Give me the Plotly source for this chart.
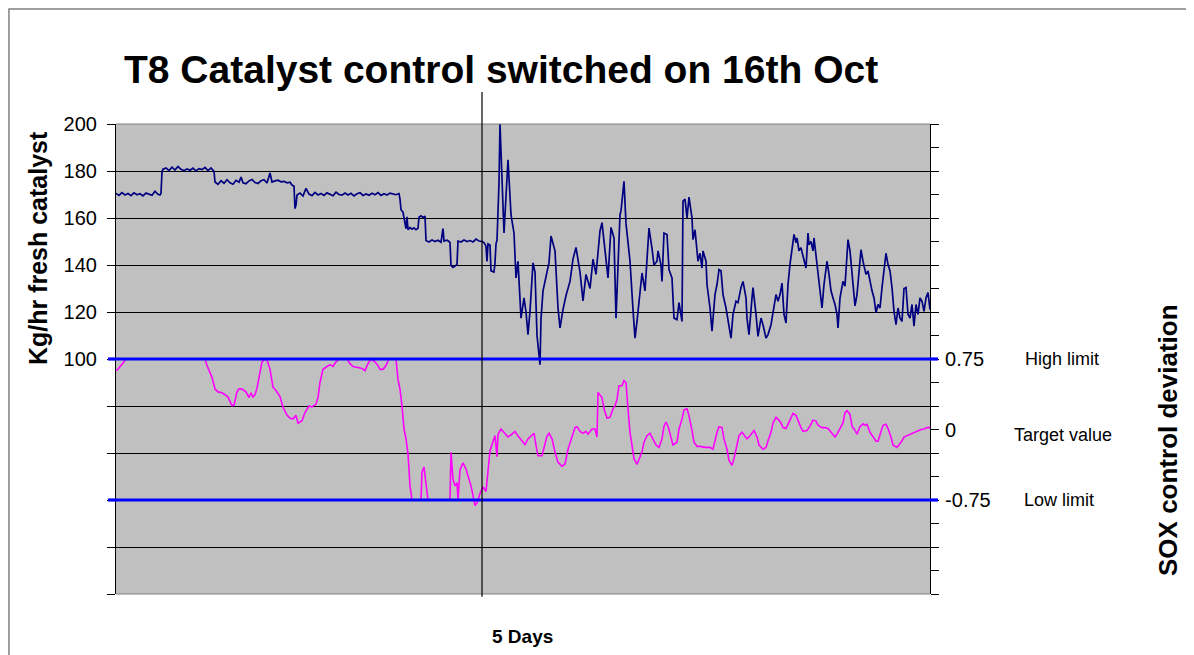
import plotly.graph_objects as go

# ---------------- data ----------------
# x = sample number over the 5-day window (0..814), catalyst in kg/hr
catalyst_x = [0, 3, 6, 9, 12, 15, 18, 21, 24, 27, 30, 33, 36, 39, 42, 44, 45,
              46, 47, 50, 53, 56, 59, 62, 65, 68, 71, 74, 77, 80, 83, 86, 89, 92, 95, 98,
              99, 102, 105, 108, 111, 114, 117, 120, 123, 125, 127, 130, 133, 136, 139, 142, 145, 148, 151, 154, 156, 159, 162, 165, 168, 171, 174, 176, 178,
              179, 180, 181, 184, 187, 190, 193, 196, 199, 202, 205, 208, 211, 214, 217, 220, 223, 226, 229, 232, 235, 238, 241, 244, 247, 250, 253, 256, 259, 262, 265, 268, 271, 274, 277, 280, 283,
              284, 285, 287, 288, 290, 291, 292, 294, 296, 298, 300, 302, 303, 305, 307, 309,
              310, 313, 316, 319, 322, 325, 327, 328, 331, 333, 334,
              335, 337, 339, 341, 342, 345, 348, 351, 354, 357, 360, 363, 366, 368, 370, 371, 372, 374, 375, 378, 379, 380, 381, 383, 384,
              388, 392, 395, 398, 400, 402, 405, 408, 410, 412, 414, 417, 419, 421, 424, 425, 427, 430, 433, 435, 439, 442, 444, 447, 450, 454, 457, 460, 464, 467, 470, 474, 477, 480, 484, 486, 489, 492, 495, 498, 500, 504, 505, 508, 510, 514, 517, 519, 521,
              524, 526, 529, 531, 533, 536, 538, 541, 542, 545, 546, 548, 551, 553, 556, 558, 561, 563, 566, 567, 569, 571, 573, 576, 577, 579, 581, 582, 584, 586, 587, 590, 591, 594, 596, 599, 601, 603, 605, 607, 610, 612, 615, 617, 620, 622, 625, 627, 630, 631, 633, 636, 637, 640, 642, 645, 647, 650, 652, 655, 657, 660, 662, 664, 666, 668, 670, 672, 674,
              676, 678, 680, 681, 683, 685, 687, 690, 692, 693, 695, 697, 698, 701, 703, 705, 706, 708, 711, 713, 715, 717, 719, 721, 722, 724, 726, 727, 729, 731, 732, 734, 736, 737, 739, 741, 743, 745, 747, 750, 752, 754, 756, 758, 760, 762, 764, 766, 768, 770, 772, 774, 776, 778, 780, 782, 784, 786, 788, 790, 792, 794, 796, 798, 800, 802, 804, 806, 808, 810, 812, 814]
catalyst_kg = [170.5, 169.6, 170.8, 169.8, 170.4, 169.5, 170.7, 169.9, 170.3, 169.4, 170.6, 170.0, 169.7, 171.4, 170.1, 169.8, 170.5,
               179.6, 180.8, 181.3, 180.2, 181.6, 180.4, 181.9, 180.7, 180.1, 180.9, 180.3, 181.2, 180.0, 181.0, 180.6, 181.5, 180.2, 181.3, 179.8,
               175.3, 174.3, 175.9, 174.8, 176.3, 175.0, 174.4, 176.0, 175.2, 177.4, 175.0, 174.6, 175.8, 176.4, 175.1, 174.7, 175.9, 176.3, 174.9, 179.2, 175.3, 175.8, 176.1, 175.4, 175.6, 175.0, 175.2, 174.0, 173.5,
               164.0, 165.5, 169.8, 170.6, 169.4, 172.6, 170.2, 169.5, 170.9, 169.8, 170.4, 169.6, 170.7, 170.1, 169.5, 171.0, 170.0, 169.7, 170.6, 169.8, 170.5, 169.4, 170.3, 170.8, 169.6, 170.2, 169.7, 170.5, 169.9, 170.8, 169.6, 170.3, 169.8, 170.6, 170.1, 169.9, 170.4,
               168.0, 163.5, 162.5, 160.0, 155.5, 160.5, 155.0, 156.0, 155.2, 155.8, 155.0, 155.6, 160.3, 160.9, 160.2, 160.8,
               150.4, 149.8, 150.6, 150.0, 150.5, 149.7, 155.5, 150.2, 150.6, 150.0, 149.5,
               139.8, 139.0, 139.5, 140.3, 150.2, 149.8, 150.6, 150.0, 150.4, 149.8, 151.0, 150.2, 150.0, 149.5, 148.0, 141.5, 149.0, 148.5, 137.5, 137.0, 141.0, 149.0, 150.5, 175.0, 200.0,
               153.6, 184.8, 161.4, 153.6, 134.5, 141.6, 117.4, 126.0, 120.0, 110.4, 120.4, 140.9, 137.0, 110.0, 97.6, 117.0, 129.0, 135.0, 141.0, 152.3, 146.0, 121.7, 113.2, 121.0, 127.0, 133.0, 142.5, 147.5, 137.0, 124.7, 136.0, 130.0, 142.5, 136.0, 154.5, 158.0, 146.0, 134.5, 156.0, 151.5, 117.4, 161.4, 163.0, 175.6, 157.6, 141.6, 121.0, 108.9, 116.0,
               128.9, 136.6, 129.0, 144.4, 155.7, 147.0, 140.0, 141.6, 146.0, 140.0, 133.0, 153.6, 153.0, 138.0, 134.5, 117.4, 116.7, 124.0, 116.0, 167.2, 168.0, 160.0, 168.9, 160.0, 150.8, 155.0, 147.0, 141.6, 145.0, 138.7, 146.0, 141.6, 131.7, 121.7, 111.8, 127.4, 131.7, 138.0, 137.5, 127.4, 121.7, 116.0, 108.9, 119.0, 124.6, 124.0, 130.4, 133.0, 126.0, 117.4, 110.4, 126.0, 130.4, 119.0, 109.6, 117.4, 114.6, 108.9, 110.4, 114.6, 120.3, 127.4, 124.6, 127.4, 132.3, 119.0, 115.3, 131.7, 140.3,
               147.4, 153.0, 149.5, 151.5, 146.0, 147.4, 143.8, 138.7, 153.6, 148.7, 150.0, 146.0, 151.5, 140.3, 133.0, 124.6, 121.7, 131.7, 141.6, 136.0, 129.0, 126.0, 123.2, 119.0, 113.2, 126.0, 130.4, 133.0, 131.0, 141.6, 150.8, 146.0, 137.5, 130.4, 122.6, 127.4, 138.7, 146.5, 141.6, 136.0, 137.5, 133.0, 129.0, 126.0, 119.7, 123.2, 121.7, 130.4, 138.7, 145.0, 140.3, 137.5, 130.4, 120.3, 114.6, 121.7, 117.4, 116.0, 130.0, 130.4, 119.0, 117.4, 123.2, 114.0, 123.2, 119.0, 126.0, 124.6, 120.3, 126.0, 128.3, 121.0]

# SOX control deviation (right axis)
sox_x = [0, 2, 5, 7, 10, 89, 91, 96, 99, 102, 106, 109, 112, 116, 118, 121, 123, 126, 130, 133, 135, 137, 139, 141, 144, 146, 149, 151, 154, 157, 160, 164, 167, 171, 174, 177, 180, 182, 186, 189, 193, 196, 200, 202, 204, 207, 211, 214, 217, 220, 223, 231, 234, 237, 242, 246, 249, 252, 255, 259, 262, 264, 267, 270, 273, 280, 282, 284, 286, 288, 290, 292, 294, 296, 305, 306, 308, 310, 312, 334, 335, 337, 339, 341, 342, 344, 347, 350, 352, 355, 357, 359, 361, 364, 367, 370, 374, 377, 379, 381, 382, 385, 388, 392, 396, 399, 402, 406, 409, 412, 416, 418, 420, 422, 426, 428, 431, 433, 436, 439, 442, 446, 449, 452, 456, 459, 461, 464, 467, 470, 472, 476, 479, 481, 482, 486, 488, 491, 494, 497, 499, 501, 503, 506, 508, 510, 512, 514, 516, 518, 521, 523, 526, 528, 531, 534, 537, 540, 543, 546, 548, 550, 552, 555, 557, 561, 563, 566, 568, 571, 573, 576, 578, 581, 584, 589, 594, 597, 599, 601, 603, 606, 608, 611, 613, 616, 618, 621, 623, 626, 628, 631, 633, 636, 638, 641, 643, 647, 650, 652, 655, 657, 660, 662, 665, 667, 670, 672, 675, 677, 680, 682, 685, 687, 691, 694, 697, 700, 702, 706, 709, 712, 716, 719, 721, 724, 727, 729, 731, 734, 736, 739, 741, 744, 747, 749, 751, 754, 757, 760, 762, 765, 767, 770, 772, 775, 777, 781, 783, 786, 788, 791, 795, 798, 801, 805, 808, 811, 814]
sox_dev = [0.626, 0.643, 0.68, 0.706, 0.75, 0.75, 0.68, 0.555, 0.431, 0.40, 0.39, 0.37, 0.345, 0.253, 0.26, 0.40, 0.433, 0.43, 0.40, 0.34, 0.39, 0.345, 0.37, 0.44, 0.625, 0.72, 0.75, 0.74, 0.64, 0.45, 0.415, 0.35, 0.236, 0.154, 0.12, 0.114, 0.15, 0.066, 0.094, 0.18, 0.25, 0.24, 0.27, 0.34, 0.50, 0.64, 0.67, 0.69, 0.67, 0.72, 0.75, 0.75, 0.70, 0.67, 0.66, 0.65, 0.626, 0.70, 0.75, 0.72, 0.68, 0.64, 0.64, 0.68, 0.75, 0.75, 0.53, 0.43, 0.25, 0.005, -0.10, -0.26, -0.60, -0.75, -0.75, -0.455, -0.40, -0.55, -0.75, -0.75, -0.243, -0.53, -0.60, -0.565, -0.75, -0.43, -0.356, -0.42, -0.49, -0.60, -0.70, -0.81, -0.78, -0.68, -0.61, -0.66, -0.225, -0.135, -0.066, -0.29, -0.05, 0.005, -0.03, -0.08, -0.05, -0.02, -0.07, -0.12, -0.16, -0.10, -0.06, -0.04, -0.17, -0.28, -0.28, -0.19, -0.07, -0.04, -0.10, -0.24, -0.35, -0.39, -0.37, -0.21, -0.08, 0.02, 0.03, -0.02, -0.04, -0.02, -0.05, 0.005, 0.005, -0.08, 0.395, 0.34, 0.22, 0.12, 0.13, 0.22, 0.25, 0.32, 0.466, 0.466, 0.52, 0.50, 0.22, -0.03, -0.17, -0.31, -0.37, -0.31, -0.24, -0.135, -0.066, -0.04, -0.10, -0.165, -0.19, -0.10, 0.035, 0.08, 0.035, -0.10, -0.165, -0.135, 0.005, 0.11, 0.21, 0.22, 0.145, -0.01, -0.135, -0.18, -0.18, -0.19, -0.19, -0.21, -0.10, -0.03, 0.03, 0.02, -0.10, -0.21, -0.33, -0.38, -0.31, -0.17, -0.066, -0.03, -0.06, -0.10, -0.08, -0.03, -0.01, -0.08, -0.165, -0.21, -0.19, -0.12, -0.03, 0.07, 0.13, 0.11, 0.07, 0.02, 0.01, 0.055, 0.12, 0.17, 0.15, 0.09, 0.02, -0.02, -0.01, 0.035, 0.10, 0.09, 0.045, 0.02, 0.02, 0.01, -0.04, -0.08, -0.05, 0.005, 0.07, 0.18, 0.20, 0.16, 0.035, -0.01, -0.05, 0.03, 0.06, 0.045, 0.055, -0.03, -0.08, -0.125, -0.125, -0.03, 0.045, 0.055, 0.01, -0.08, -0.165, -0.19, -0.165, -0.12, -0.08, -0.066, -0.05, -0.04, -0.02, 0.0, 0.005, 0.02, 0.02]

limit_values = [0.75, -0.75]
limit_names = ["High limit", "Low limit"]
target_value = 0
target_name = "Target value"
switch_sample = 366
n_samples = 814

left_ticks = [0, 20, 40, 60, 80, 100, 120, 140, 160, 180, 200]
left_labels = ["", "", "", "", "", "100", "120", "140", "160", "180", "200"]
right_ticks = [-1.75 + 0.25 * i for i in range(21)]
right_label_values = [0.75, 0, -0.75]

title_text = "T8 Catalyst control switched on 16th Oct"
left_title = "Kg/hr fresh catalyst"
right_title = "SOX control deviation"
x_title = "5 Days"

# ---------------- figure ----------------
FONT = "Arial, 'Liberation Sans', sans-serif"
fig = go.Figure()

fig.add_trace(go.Scatter(x=sox_x, y=sox_dev, yaxis="y2", mode="lines",
                         line=dict(color="#FF00FF", width=1.6), hoverinfo="skip"))
for v in limit_values:
    fig.add_trace(go.Scatter(x=[0, n_samples], y=[v, v], yaxis="y2", mode="lines",
                             line=dict(color="#0000FF", width=3.2), hoverinfo="skip"))
fig.add_trace(go.Scatter(x=catalyst_x, y=catalyst_kg, mode="lines",
                         line=dict(color="#000080", width=1.7), hoverinfo="skip"))

def fmt(v):
    return "0" if v == 0 else ("%g" % v)

right_text = [fmt(round(t, 2)) if any(abs(t - r) < 1e-9 for r in right_label_values) else ""
              for t in right_ticks]

# page body adds an 8px margin, so the figure is sized to fit the window
fig.update_layout(
    width=1186, height=647,
    margin=dict(l=108, r=264, t=116, b=61),
    paper_bgcolor="white", plot_bgcolor="#C0C0C0",
    showlegend=False, hovermode=False,
    font=dict(family=FONT, color="black"),
    xaxis=dict(range=[0, n_samples], showgrid=False, zeroline=False, showline=False,
               showticklabels=False, ticks=""),
    yaxis=dict(range=[0, 200], tickvals=left_ticks, ticktext=left_labels,
               showgrid=True, gridcolor="black", gridwidth=1, zeroline=False,
               showline=True, linecolor="black", linewidth=1.2,
               ticks="outside", ticklen=8, tickcolor="black", tickwidth=1,
               tickfont=dict(size=20, family=FONT, color="black"),
               ticklabelstandoff=6),
    yaxis2=dict(range=[-1.75, 3.25], overlaying="y", side="right",
                tickvals=right_ticks, ticktext=right_text,
                showgrid=False, zeroline=False, showline=True, linecolor="black", linewidth=1.2,
                ticks="outside", ticklen=8, tickcolor="black", tickwidth=1,
                tickfont=dict(size=20, family=FONT, color="black"),
                ticklabelstandoff=2),
    yaxis3=dict(range=[-1.75, 3.25], overlaying="y", side="right",
                tickvals=right_ticks, showticklabels=False,
                showgrid=False, zeroline=False, showline=False,
                ticks="inside", ticklen=7, tickcolor="black", tickwidth=1),
)

shapes = []
# outer chart frame
shapes.append(dict(type="rect", xref="paper", yref="paper", x0=-0.1315, x1=1.34, y0=-0.15, y1=1.2447,
                   line=dict(color="#808080", width=1.5), fillcolor="rgba(0,0,0,0)", layer="below"))
# plot area top / bottom border (gray)
for yy in (0, 1):
    shapes.append(dict(type="line", xref="paper", yref="paper", x0=0, x1=1, y0=yy, y1=yy,
                       line=dict(color="#808080", width=1.2), layer="above"))
# limit line stubs outside plot area
for v in limit_values:
    shapes.append(dict(type="line", xref="paper", yref="y2", x0=-0.0098, x1=0, y0=v, y1=v,
                       line=dict(color="#0000FF", width=3.2), layer="above"))
    shapes.append(dict(type="line", xref="paper", yref="y2", x0=1, x1=1.0098, y0=v, y1=v,
                       line=dict(color="#0000FF", width=3.2), layer="above"))
# control switch marker
shapes.append(dict(type="line", xref="x", yref="paper", x0=switch_sample, x1=switch_sample,
                   y0=-0.006, y1=1.068, line=dict(color="black", width=1.2), layer="above"))
fig.update_layout(shapes=shapes)

ann = []
ann.append(dict(text="<b>" + title_text + "</b>", xref="paper", yref="paper", x=0.473, y=1.115,
                showarrow=False, font=dict(size=39, family=FONT, color="black"),
                xanchor="center", yanchor="middle"))
ann.append(dict(text="<b>" + left_title + "</b>", xref="paper", yref="paper", x=-0.0958, y=0.736,
                showarrow=False, textangle=-90, font=dict(size=25, family=FONT, color="black"),
                xanchor="center", yanchor="middle"))
ann.append(dict(text="<b>" + right_title + "</b>", xref="paper", yref="paper", x=1.2924, y=0.3277,
                showarrow=False, textangle=-90, font=dict(size=26, family=FONT, color="black"),
                xanchor="center", yanchor="middle"))
ann.append(dict(text="<b>" + x_title + "</b>", xref="paper", yref="paper", x=0.4988, y=-0.0894,
                showarrow=False, font=dict(size=19, family=FONT, color="black"),
                xanchor="center", yanchor="middle"))
ann.append(dict(text=limit_names[0], xref="paper", yref="y2", x=1.162, y=limit_values[0],
                showarrow=False, font=dict(size=18, family=FONT, color="black"),
                xanchor="center", yanchor="middle"))
ann.append(dict(text=target_name, xref="paper", yref="y2", x=1.164, y=target_value, yshift=-5,
                showarrow=False, font=dict(size=18, family=FONT, color="black"),
                xanchor="center", yanchor="middle"))
ann.append(dict(text=limit_names[1], xref="paper", yref="y2", x=1.159, y=limit_values[1],
                showarrow=False, font=dict(size=18, family=FONT, color="black"),
                xanchor="center", yanchor="middle"))
fig.update_layout(annotations=ann)

fig.write_html("out.html")
